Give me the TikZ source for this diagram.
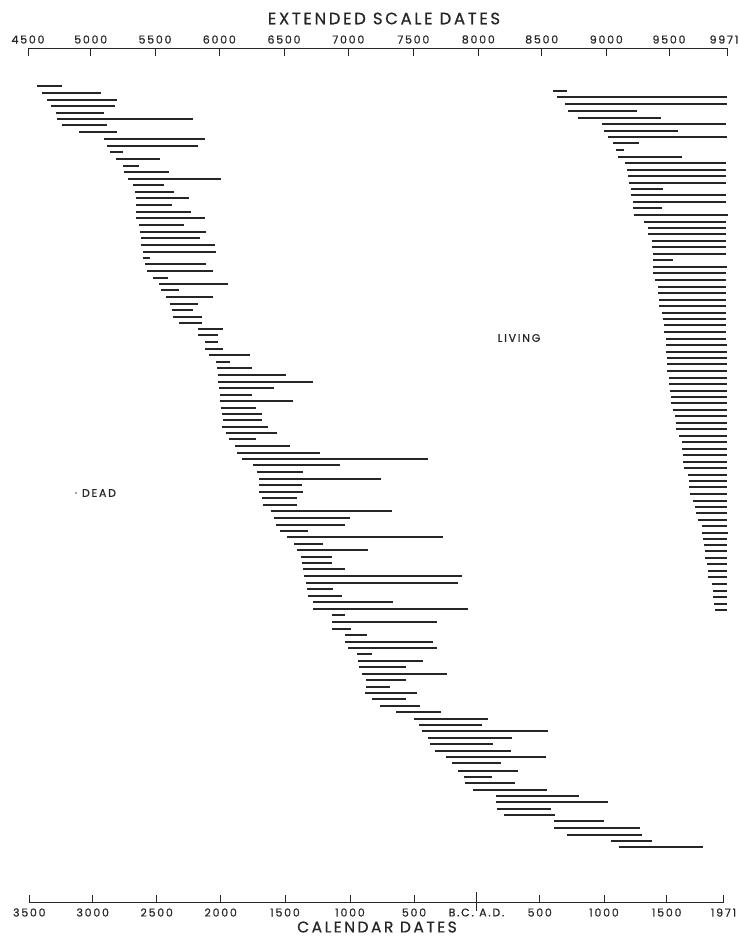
\documentclass[tikz,border=0pt]{standalone}
\usepackage{fontspec}
\setmainfont{Poppins}
\newfontfamily\lab[LetterSpace=16,FakeBold=0.6]{Poppins}
\begin{document}
\begin{tikzpicture}[x=1pt,y=-1pt,
  bar/.style={line width=2pt,black!85},
  axis/.style={line width=1.2pt,black!85},
  tick/.style={line width=1pt,black!85},
  ticklab/.style={font=\lab\fontsize{11}{11}\selectfont,inner sep=0pt,text=black!85},
  title/.style={font=\lab\fontsize{16.5}{16.5}\selectfont,inner sep=0pt,text=black!85},
  area/.style={font=\lab\fontsize{11}{11}\selectfont,inner sep=0pt,text=black!85}]
\useasboundingbox (0,0) rectangle (739,936);
% top axis
\coordinate (tl) at (28,48.5);
\coordinate (tr) at (727,48.5);
\draw[axis] (tl) -- (tr);
\foreach \x/\t [count=\i] in {28/4500,90.7/5000,155/5500,219.3/6000,284/6500,348.3/7000,413.3/7500,478.3/8000,541.7/8500,606.3/9000,669/9500}{
  \coordinate (ta\i) at (\x,48.5);
  \coordinate (tb\i) at (\x,56);
  \draw[tick] (ta\i) -- (tb\i);
  \node[ticklab] (tt\i) at (\x,39.5) {\t};
}
\coordinate (ta12) at (727,48.5);
\coordinate (tb12) at (727,56);
\draw[tick] (ta12) -- (tb12);
\node[ticklab,anchor=east] (tt12) at (738.5,39.5) {9971};
\node[title] (ttitle) at (384,18.5) {EXTENDED SCALE DATES};
% bottom axis
\coordinate (bl) at (29,902.5);
\coordinate (br) at (724,902.5);
\draw[axis] (bl) -- (br);
\foreach \x/\t [count=\i] in {29.3/3500,92.7/3000,156.7/2500,220.7/2000,285/1500,350/1000,414/500,539.7/500,604/1000,666.7/1500,723.5/1971}{
  \coordinate (ba\i) at (\x,902.5);
  \coordinate (bb\i) at (\x,895);
  \draw[tick] (ba\i) -- (bb\i);
  \node[ticklab] (bt\i) at (\x,912.5) {\t};
}
\coordinate (sepa) at (476.3,891.5);
\coordinate (sepb) at (476.3,910.5);
\draw[tick] (sepa) -- (sepb);
\node[ticklab,anchor=east] (bc) at (474,912.5) {B.C.};
\node[ticklab,anchor=west] (ad) at (479,912.5) {A.D.};
\node[title,font=\lab\fontsize{15.5}{15.5}\selectfont] (btitle) at (377,927) {CALENDAR DATES};
% area labels
\node[area] (dead) at (99,493) {DEAD};
\node[area] (living) at (519,338) {LIVING};
\fill[black!70] (76,493) circle (0.8);
% dead bars
\foreach \y/\a/\b in {85.7/36.7/61.7,92.7/41.7/101,100/46.7/117.3,105.7/50.7/115,112.7/56/104,119.3/57.3/193.3,125.3/61.7/106.7,132/79.3/116.7,139.3/104/205,146.3/107.3/198.3,152.3/110/122.7,159.3/116/160,165.7/122.7/139.3,172/124/169,179/128.3/220.7,185.3/133.3/164,192/135/174,198.3/135.7/189.3,205.3/136/171.7,211.7/136/190.7,218.3/136/205,225.3/139.3/184,231.7/140/206,238/140.7/200,244.7/140.7/215,251.7/142.7/216,258.3/142.7/150,264.3/145/206,271/146.7/212.7,277.7/153.3/168.3,283.7/159.3/228.3,290.3/160.7/179.3,297/166/212.7,304/170/198.3,310.3/171.7/193.3,317/172.7/201.7,322.7/179.3/201.7,329.3/198.3/222.7,335.3/198.3/218.3,342.3/205/218.3,348.7/205/222.7,355/209.3/250,361.7/216/230,368.3/217.3/251.7,375/218.3/286,381.7/218.3/313.3,388.3/219.3/274,394.7/220/251.7,400.7/220/293.3,407.7/220.7/256,414/221.7/261.7,420.3/222.7/261.7,426.7/221.7/268.3,432.7/226/276.7,439.3/229.3/256,446/235/290,452.7/237.3/320,459.3/241.7/428.3,465.3/253.3/340,472/257.3/302.7,479.3/259.3/380.7,485.3/259.3/301.7,491.7/259.3/303.3,498.3/261.7/297.3,504.7/262.7/296.7,511.3/270.7/391.7,518/274/350,524.7/276/345,530.7/280/308.3,537.3/287.3/443.3,543.7/294/323.3,550/296.7/368.3,556.7/300.7/331.7,563.3/301.7/331.7,569.3/303.3/345,576/304/461.7,582.7/306/458.3,589.3/306.7/332.7,596/308.3/341.7,602.3/313.3/392.7,609/313.3/468.3,615.3/331.7/345,622/331.7/436.7,628.7/331.7/350.7,635/345/366.7,641.7/345/432.7,648/348.3/436.7,654/357.3/371.7,660.7/358.3/423.3,667/359.3/406,673.7/361.7/446.7,680/366/406,686.7/366/390,692.7/365/416.7,699.3/371.7/406,706/380/420,712/396/440.7,718.7/414/488.3,725/419.3/481.7,731.3/421.7/548.3,738/428.3/511.7,744.3/430/492.7,750.7/435/510.7,757/446/546,763.3/451.7/500.7,770.7/458.3/518.3,776.7/464/491.7,783/465/515,790/473.3/547.3,796/496/579.3,802.3/496/608.3,808.7/496.7/550.7,815.3/504/555,821.3/554/604,828/554/640,834.7/567.3/641.7,840.7/610.7/651.7,846.7/619.3/702.7}{
  \pgfmathsetmacro\yy{round(\y)}
  \draw[bar] (\a,\yy) -- (\b,\yy);
}
% living bars
\foreach \y/\a/\b in {90.7/553.3/566.7,96.7/557.3/726.7,104/565/726.7,111/568.3/636.7,117.7/578.3/660.7,124/601.7/726,130.7/604/678.3,137.3/608.3/726.7,143.3/613.3/639.3,150/616/624,156.7/618.3/681.7,163.3/625/726,170/626.7/726,176.3/628/726,183/629.3/726,188.7/630.7/663.3,195.3/630.7/726,202/633.3/726,208/632.7/661.7,215.3/634/728,222/644/726,228/648.3/726,234.3/648.3/726,240.7/651.7/726,247.3/651.7/726,253.7/652.7/726,260/653.3/673.3,267.3/653.3/726.7,273.3/653.3/726,280/655/726,286.7/658.3/726,293.3/658.3/726,300/659.3/726,306/659.3/726,312.7/661.7/726,319/662.7/726,325.3/664/726,331.7/664/726,338.7/666/726,345/666/726.7,351.7/666/726.7,358.3/667.3/726.7,364.3/667.3/726.7,371/667.3/726.7,377.7/669.3/726.7,384/669.3/726.7,390.7/670/726.7,396.7/670.7/726.7,403.3/670.7/726.7,410/672.7/726.7,416/675/726.7,422.7/676/726.7,429.3/676/726.7,436/679.3/726.7,442/681.7/726.7,448.7/681.7/726.7,455/683.3/726.7,461.7/683.3/726.7,468/684/726.7,474.7/688.3/726.7,481.3/689.3/726.7,487.3/689.3/726.7,494/690/726.7,500.7/692.7/726.7,506.7/695/726.7,513.3/696/726.7,520/698.3/726.7,526/701.7/726.7,532.7/701.7/728,538.7/703.3/726.7,545.3/704/726.7,551.3/705/726.7,558/705/726.7,564/706.7/726.7,570.7/708.3/726.7,577.3/708.3/726.7,584/711.7/726.7,590.7/713.3/726.7,597/713.3/726.7,603.7/714/726.7,610/715/726.7}{
  \pgfmathsetmacro\yy{round(\y)}
  \draw[bar] (\a,\yy) -- (\b,\yy);
}
\end{tikzpicture}
\end{document}
